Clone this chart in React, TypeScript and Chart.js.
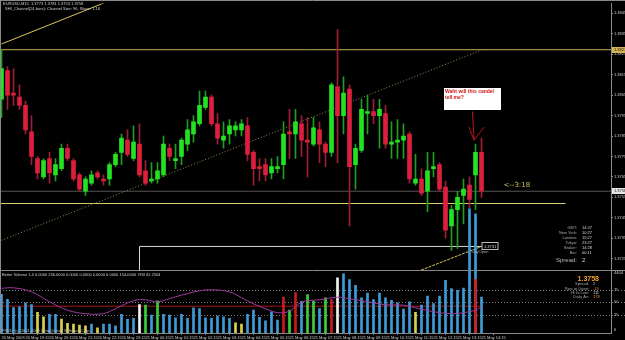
import React, { useEffect, useRef } from "react";
import { Chart, registerables } from "chart.js";

Chart.register(...registerables);

// ---------- data ----------
const timeTickBars = [0, 4, 8, 12, 16, 20, 24, 28, 32, 36, 40, 44, 48, 52, 56, 60, 64, 68, 72, 76, 80];
const timeLabels = [
  "20 May 2009", "20 May 19:15", "20 May 20:15", "20 May 21:15", "20 May 22:15", "20 May 23:15",
  "21 May 00:15", "21 May 01:15", "21 May 02:15", "21 May 03:15", "21 May 04:15", "21 May 05:15",
  "21 May 06:15", "21 May 07:15", "21 May 08:15", "21 May 09:15", "21 May 10:15", "21 May 11:15",
  "21 May 12:15", "21 May 13:15", "21 May 14:15",
];

const opens = [
  1.3803, 1.3817, 1.3806, 1.3804, 1.38, 1.3787, 1.3774, 1.3765, 1.3774, 1.3766,
  1.3769, 1.3779, 1.3773, 1.3766, 1.3758, 1.3762, 1.3767, 1.3764, 1.3764, 1.3771,
  1.3777, 1.3783, 1.3774, 1.3781, 1.3768, 1.3763, 1.3764, 1.3766, 1.3779, 1.3773,
  1.3775, 1.3781, 1.3786, 1.3791, 1.3799, 1.3804, 1.3791, 1.3783, 1.3786, 1.3788,
  1.3788, 1.379, 1.3777, 1.377, 1.3771, 1.3767, 1.3769, 1.3771, 1.3787, 1.3786,
  1.3791, 1.3783, 1.3781, 1.3788, 1.3781, 1.3777, 1.3809, 1.3795, 1.3808, 1.3771,
  1.3778, 1.3796, 1.3797, 1.3795, 1.3796, 1.3781, 1.3782, 1.3783, 1.3786, 1.3762,
  1.3764, 1.3758, 1.3769, 1.3771, 1.376, 1.3741, 1.3749, 1.3756, 1.3761, 1.3766,
  1.3777,
];
const highs = [
  1.3827, 1.3819, 1.3818, 1.381, 1.3802, 1.3795, 1.3775, 1.3774, 1.3777, 1.3774,
  1.3781, 1.3781, 1.3774, 1.3767, 1.3765, 1.3768, 1.3768, 1.3766, 1.3772, 1.3777,
  1.3786, 1.3788, 1.379, 1.3791, 1.3773, 1.3772, 1.3772, 1.3785, 1.3781, 1.3781,
  1.3784, 1.3793, 1.3795, 1.3807, 1.3807, 1.3805, 1.3796, 1.3792, 1.3793, 1.3792,
  1.3793, 1.3794, 1.3778, 1.3774, 1.3774, 1.3774, 1.3775, 1.3792, 1.3798, 1.3798,
  1.3795, 1.3794, 1.3794, 1.3792, 1.3782, 1.3811, 1.3837, 1.3814, 1.381, 1.3781,
  1.3803, 1.3805, 1.3803, 1.3803, 1.38, 1.3792, 1.3793, 1.3791, 1.3787, 1.3776,
  1.3769, 1.3777, 1.3777, 1.3772, 1.3763, 1.3751, 1.3758, 1.3764, 1.3765, 1.3781,
  1.3784,
];
const lows = [
  1.3794, 1.3798, 1.38, 1.3798, 1.3786, 1.3771, 1.3764, 1.3764, 1.3762, 1.3763,
  1.3768, 1.3773, 1.3763, 1.3758, 1.3756, 1.3761, 1.3764, 1.3761, 1.3761, 1.377,
  1.3771, 1.3775, 1.3773, 1.3765, 1.3761, 1.3762, 1.3762, 1.3765, 1.3773, 1.3769,
  1.3771, 1.3778, 1.3782, 1.379, 1.3798, 1.379, 1.3781, 1.3779, 1.3781, 1.3785,
  1.3785, 1.3773, 1.3761, 1.3763, 1.3763, 1.3764, 1.3767, 1.3764, 1.3774, 1.3774,
  1.3775, 1.3765, 1.378, 1.3772, 1.377, 1.3775, 1.3772, 1.3786, 1.3741, 1.3759,
  1.3777, 1.3786, 1.3791, 1.3779, 1.3779, 1.3774, 1.3774, 1.3774, 1.3762, 1.3761,
  1.3756, 1.3748, 1.3765, 1.3758, 1.3735, 1.3729, 1.373, 1.3742, 1.375, 1.3749,
  1.3755,
];
const closes = [
  1.3818, 1.3805, 1.3805, 1.38, 1.3788, 1.3775, 1.3767, 1.3773, 1.3767, 1.3771,
  1.3779, 1.3774, 1.3764, 1.3759, 1.3764, 1.3766, 1.3765, 1.3763, 1.3771, 1.3776,
  1.3784, 1.3776, 1.3782, 1.3766, 1.3762, 1.3764, 1.3768, 1.3781, 1.3775, 1.3774,
  1.3783, 1.3788, 1.3792, 1.38, 1.3804, 1.3791, 1.3784, 1.3785, 1.379, 1.379,
  1.3791, 1.3776, 1.3769, 1.3769, 1.3766, 1.377, 1.377, 1.3786, 1.3786, 1.3792,
  1.3783, 1.3782, 1.3789, 1.3781, 1.3777, 1.381, 1.3795, 1.3806, 1.377, 1.3779,
  1.3798, 1.3797, 1.3795, 1.3798, 1.3781, 1.3782, 1.3783, 1.3785, 1.3764, 1.3764,
  1.3757, 1.3768, 1.377, 1.3759, 1.3739, 1.3749, 1.3755, 1.3759, 1.3754, 1.3777,
  1.3758,
];

const volumes = [
  2816, 2455, 1855, 1899, 2188, 2072, 1495, 1177, 1350, 1350,
  1011, 700, 650, 578, 527, 650, 383, 650, 650, 527,
  1350, 989, 1061, 2072, 2022, 1300, 2332, 1350, 1300, 1105,
  1350, 1061, 1827, 1783, 1105, 1061, 1227, 1177, 1061, 744,
  650, 1350, 1661, 1134, 888, 1538, 939, 2621, 1661, 2939,
  2310, 2794, 2310, 1783, 2549, 2433, 4021, 4310, 3877, 3466,
  2549, 2910, 2433, 2910, 2549, 2383, 2188, 1733, 2260, 1495,
  2022, 2693, 2144, 2693, 3827, 3227, 3105, 3271, 9025, 8664,
  2621,
];
// b = blue, y = yellow, g = green, r = red, w = white
const volumeKinds = (
  "bbbbbb" + "yy" + "bb" + "yyyyy" + "b" + "y" + "bbbbbb" + "w" + "g" + "b" + "g" +
  "bbbbbbbbbbbb" + "yy" + "bbbbbb" + "r" + "g" + "r" + "b" + "gg" + "b" + "g" + "r" + "w" +
  "bbbbbbbbbbbb" + "y" + "bbbbbbbbbbb"
).split("");
const climaxBars = [79];
const climaxValues = [3899];
const volumeAverage = 1950;
const volumeTopLabel = 4404;

const rsiBars = [0, 2, 5, 8, 11, 14, 17, 19, 22, 24, 26, 29, 33, 35, 38, 40, 42, 44, 46, 48, 50, 53, 56, 58, 61, 64, 67, 69, 72, 75, 77, 79, 80];
const rsiValues = [78, 79, 71, 51, 34, 27, 27, 37, 53, 55, 51, 61, 73, 75, 71, 59, 47, 37, 29, 32, 50, 55, 60, 57, 51, 45, 44, 39, 31, 27, 29, 34, 41];
const rsiLevels = [75, 50, 25];

const priceTicks = [1.3845, 1.3835, 1.3825, 1.3815, 1.3805, 1.3795, 1.3785, 1.3775, 1.3765, 1.3755, 1.3745, 1.3735, 1.3725];

const channelUpperBars = [0, 40];
const channelUpperPrices = [1.383, 1.3877];
const channelMiddleBars = [0, 80];
const channelMiddlePrices = [1.3734, 1.3827];
const channelLowerBars = [60, 80];
const channelLowerPrices = [1.3708, 1.3731];
const resistancePrice = 1.38272;
const supportBars = [-2, 94];
const supportPrice = 1.3752;
const bidPrice = 1.3758;
const dayOpenBars = [23, 23, 80];
const dayOpenPrices = [1.3712, 1.3731, 1.3731];

// ---------- layout / style ----------
const FONT = "'Liberation Sans', Arial, Helvetica, sans-serif";
const TXT = "#cfcfcf";
const FRAME = "#8a8a8a";
const X_MIN = -0.25;
const X_MAX = -0.25 + 611 / 6;
const PRICE_MAX = 1.384985;
const PRICE_MIN = 1.368868;
const VOL_MAX = 23969;
const RSI_MIN = -12;
const RSI_MAX = 652;
const PANEL_SPLIT = 270;

const UP_BODY = "#22e322";
const DOWN_BODY = "#dd1f3d";
const UP_WICK = "#1f9e1f";
const DOWN_WICK = "#a01d33";
const VOL_COLORS: Record<string, string> = {
  b: "#3d9cd8",
  y: "#d6d24e",
  g: "#3ccf3c",
  r: "#c81c1c",
  w: "#f2f2f2",
};

function text(ctx: CanvasRenderingContext2D, s: string, x: number, y: number, color: string, size: number, opts: { bold?: boolean; align?: CanvasTextAlign; family?: string } = {}) {
  ctx.font = `${opts.bold ? "bold " : ""}${size}px ${opts.family || FONT}`;
  ctx.fillStyle = color;
  ctx.textAlign = opts.align || "left";
  ctx.textBaseline = "middle";
  ctx.fillText(s, x, y);
}

const overlay = {
  id: "mt4overlay",
  beforeDatasetsDraw(chart: any) {
    const { ctx, chartArea: a, scales } = chart;
    ctx.save();
    ctx.strokeStyle = "#7c7c7c";
    ctx.lineWidth = 1;
    ctx.setLineDash([1, 2]);
    for (const lv of rsiLevels) {
      const y = Math.round(scales.yr.getPixelForValue(lv)) + 0.5;
      ctx.beginPath();
      ctx.moveTo(a.left, y);
      ctx.lineTo(chart.width, y);
      ctx.stroke();
    }
    ctx.restore();
  },
  afterDraw(chart: any) {
    const { ctx, chartArea: a, scales } = chart;
    const xs = scales.x, ys = scales.y, yv = scales.yv, yr = scales.yr;
    ctx.save();
    // frames
    ctx.strokeStyle = FRAME;
    ctx.lineWidth = 1;
    ctx.beginPath();
    ctx.moveTo(0, 0.5); ctx.lineTo(chart.width, 0.5);
    ctx.moveTo(0.5, 0); ctx.lineTo(0.5, a.bottom);
    ctx.moveTo(0, PANEL_SPLIT + 0.5); ctx.lineTo(chart.width, PANEL_SPLIT + 0.5);
    ctx.stroke();

    // title texts
    text(ctx, "EURUSD,M15  1.3773 1.3781 1.3753 1.3758", 3, 4, TXT, 4);
    text(ctx, "SHI_Channel(24 bars): Channel Size: 96, Slope: 1.16", 5, 9, TXT, 4);

    // axis label boxes
    const box = (price: number, bg: string, fg: string) => {
      const y = ys.getPixelForValue(price);
      ctx.fillStyle = bg;
      ctx.fillRect(a.right + 1, Math.round(y) - 3, 14, 6);
      text(ctx, price.toFixed(4), a.right + 3, y, fg, 4);
    };
    box(resistancePrice, "#d4b552", "#111");
    box(bidPrice, "#e6e6e6", "#111");

    // remaining time text
    text(ctx, "<--3:18", xs.getPixelForValue(80) + 22, ys.getPixelForValue(bidPrice) - 6, "#c6c45e", 7, { family: "'DejaVu Sans', sans-serif" });

    // annotation box
    ctx.fillStyle = "#ffffff";
    ctx.fillRect(444, 88, 57, 22);
    text(ctx, "Waht will this candel", 445, 91.5, "#d01414", 5, { bold: true });
    text(ctx, "tell me?", 445, 97.5, "#d01414", 5, { bold: true });

    // arrow
    const tipX = xs.getPixelForValue(79) - 1.5;
    const tipY = ys.getPixelForValue(1.3783);
    const tailY = ys.getPixelForValue(1.3797);
    ctx.strokeStyle = "#b81818";
    ctx.lineWidth = 1;
    ctx.beginPath();
    ctx.moveTo(tipX - 1.5, tailY); ctx.lineTo(tipX, tipY);
    ctx.moveTo(tipX - 5, tipY - 13); ctx.lineTo(tipX, tipY); ctx.lineTo(tipX + 10, tipY - 13);
    ctx.stroke();

    // day open label
    const dy = ys.getPixelForValue(dayOpenPrices[2]);
    const dx = xs.getPixelForValue(dayOpenBars[2]);
    ctx.strokeStyle = "#bdbdbd";
    ctx.strokeRect(dx + 0.5, Math.round(dy) - 3.5, 16, 7);
    text(ctx, dayOpenPrices[2].toFixed(4), dx + 2.5, dy, "#dcdcdc", 4);
    text(ctx, "DayOpen", dx - 10, dy + 5, "#a8a8a8", 4);

    // clock table
    const rows = [["GMT:", "14:27"], ["New York:", "10:27"], ["London:", "15:27"], ["Tokyo:", "23:27"], ["Broker:", "14:28"], ["Bar:", "00:11"]];
    rows.forEach((r, i) => {
      const y = 228.3 + i * 5;
      text(ctx, r[0], 577, y, "#a8a8a8", 4, { align: "right" });
      text(ctx, r[1], 582, y, "#d8d8d8", 4);
    });
    text(ctx, "Spread:", 577, 260.7, "#b8b8b8", 6, { align: "right" });
    text(ctx, "2", 582, 260.7, "#d8d8d8", 6);

    // lower panel texts
    text(ctx, "Better Volume 1.4 0.0000 236.0000 0.0000 0.0000 0.0000 0.0000 154.0000  RSI 42.2564", 2, 274.5, TXT, 4);
    text(ctx, "FXDD: (c) 2001-2009 MetaQuotes Software Corp.", 2, 331, "#bdbdbd", 4);
    text(ctx, bidPrice.toFixed(4), 599, 278.7, "#f0a030", 7, { bold: true, align: "right" });
    const info = [["Spread:", "2", "#cfcfcf"], ["Pips to Open:", "-19", "#f07030"], ["Hi to Low:", "111", "#cfcfcf"], ["Daily Av:", "173", "#f0a030"]];
    info.forEach((r, i) => {
      const y = 284.3 + i * 4.2;
      text(ctx, r[0], 589, y, "#a8a8a8", 4, { align: "right" });
      text(ctx, r[1], 593, y, r[2], 4);
    });

    // lower axis labels
    text(ctx, String(volumeTopLabel), a.right + 3, yv.getPixelForValue(volumeTopLabel), TXT, 4);
    for (const lv of rsiLevels) text(ctx, String(lv), a.right + 3, yr.getPixelForValue(lv), TXT, 4);
    text(ctx, "0", a.right + 3, yv.getPixelForValue(0) - 3, TXT, 4);
    ctx.restore();
  },
};

export default function App() {
  const ref = useRef<HTMLCanvasElement>(null);
  useEffect(() => {
    document.body.style.margin = "0";
    document.body.style.background = "#000";
    const idx = opens.map((_, i) => i);
    const up = idx.map((i) => closes[i] >= opens[i]);
    const pts = (bars: number[], vals: number[]) => bars.map((b, i) => ({ x: b, y: vals[i] }));
    const priceLine = (data: any[], color: string, order: number, dash: number[] = []) => ({
      type: "line",
      data,
      borderColor: color,
      borderWidth: 1,
      borderDash: dash,
      pointRadius: 0,
      tension: 0,
      fill: false,
      yAxisID: "y",
      order,
      clip: { left: 0, top: 0, right: 0, bottom: -(333 - PANEL_SPLIT) },
    });
    const chart = new Chart(ref.current as HTMLCanvasElement, {
      type: "bar",
      data: {
        datasets: [
          {
            type: "bar",
            data: idx.map((i) => ({ x: i, y: [Math.min(opens[i], closes[i]), Math.max(opens[i], closes[i])] })),
            backgroundColor: idx.map((i) => (up[i] ? UP_BODY : DOWN_BODY)),
            barThickness: 4,
            minBarLength: 1,
            grouped: false,
            yAxisID: "y",
            order: 1,
          },
          {
            type: "bar",
            data: idx.map((i) => ({ x: i, y: [lows[i], highs[i]] })),
            backgroundColor: idx.map((i) => (up[i] ? UP_WICK : DOWN_WICK)),
            barThickness: 1,
            minBarLength: 1,
            grouped: false,
            yAxisID: "y",
            order: 2,
          },
          {
            type: "line",
            data: pts(rsiBars, rsiValues),
            borderColor: "#a23aa2",
            borderWidth: 1,
            pointRadius: 0,
            tension: 0.4,
            yAxisID: "yr",
            order: 3,
          },
          {
            type: "bar",
            data: pts(climaxBars, climaxValues),
            backgroundColor: "#cc1c1c",
            barThickness: 2,
            grouped: false,
            yAxisID: "yv",
            order: 4,
          },
          {
            type: "bar",
            data: idx.map((i) => ({ x: i, y: volumes[i] })),
            backgroundColor: idx.map((i) => VOL_COLORS[volumeKinds[i]]),
            barThickness: 2,
            grouped: false,
            yAxisID: "yv",
            order: 5,
          },
          {
            type: "line",
            data: [{ x: 0, y: volumeAverage }, { x: 80, y: volumeAverage }],
            borderColor: "#a01818",
            borderWidth: 1,
            pointRadius: 0,
            yAxisID: "yv",
            order: 6,
          },
          priceLine(pts(channelUpperBars, channelUpperPrices), "#dcc45a", 10),
          priceLine(pts(channelMiddleBars, channelMiddlePrices), "#9a8a50", 11, [1, 2]),
          priceLine(pts(channelLowerBars, channelLowerPrices), "#dcc45a", 12, [3, 1]),
          priceLine([{ x: X_MIN, y: resistancePrice }, { x: X_MAX, y: resistancePrice }], "#c8ac58", 13),
          priceLine([{ x: X_MIN, y: bidPrice }, { x: X_MAX, y: bidPrice }], "#555555", 14),
          priceLine(pts(supportBars, [supportPrice, supportPrice]), "#d4cc70", 15),
          priceLine(pts(dayOpenBars, dayOpenPrices), "#d8d8d8", 16),
        ] as any,
      },
      options: {
        animation: false,
        responsive: false,
        events: [],
        layout: { padding: { left: 0, top: 1, right: 0, bottom: 0 } },
        plugins: { legend: { display: false }, tooltip: { enabled: false }, title: { display: false } },
        scales: {
          x: {
            type: "linear",
            min: X_MIN,
            max: X_MAX,
            offset: false,
            afterBuildTicks: (s: any) => { s.ticks = timeTickBars.map((v) => ({ value: v })); },
            afterFit: (s: any) => { s.height = 7; },
            ticks: {
              autoSkip: false,
              maxRotation: 0,
              minRotation: 0,
              align: "start",
              padding: 0,
              color: TXT,
              font: { family: FONT, size: 4 },
              callback: (_v: any, i: number) => timeLabels[i],
            },
            grid: { drawOnChartArea: false, drawTicks: true, tickLength: 2, color: FRAME },
            border: { display: true, color: FRAME },
          },
          y: {
            type: "linear",
            position: "right",
            min: PRICE_MIN,
            max: PRICE_MAX,
            afterBuildTicks: (s: any) => { s.ticks = priceTicks.map((v) => ({ value: v })); },
            afterFit: (s: any) => { s.width = 14; },
            ticks: { padding: 1, color: TXT, font: { family: FONT, size: 4 }, callback: (v: any) => Number(v).toFixed(4) },
            grid: { drawOnChartArea: false, drawTicks: true, tickLength: 2, color: FRAME },
            border: { display: true, color: FRAME },
          },
          yv: { type: "linear", display: false, min: 0, max: VOL_MAX },
          yr: { type: "linear", display: false, min: RSI_MIN, max: RSI_MAX },
        },
      } as any,
      plugins: [overlay],
    });
    return () => chart.destroy();
  }, []);
  return (
    <div style={{ position: "absolute", left: 0, top: 0, width: 625, height: 340, background: "#000", overflow: "hidden" }}>
      <canvas ref={ref} width={625} height={340} style={{ display: "block", width: 625, height: 340 }} />
    </div>
  );
}
